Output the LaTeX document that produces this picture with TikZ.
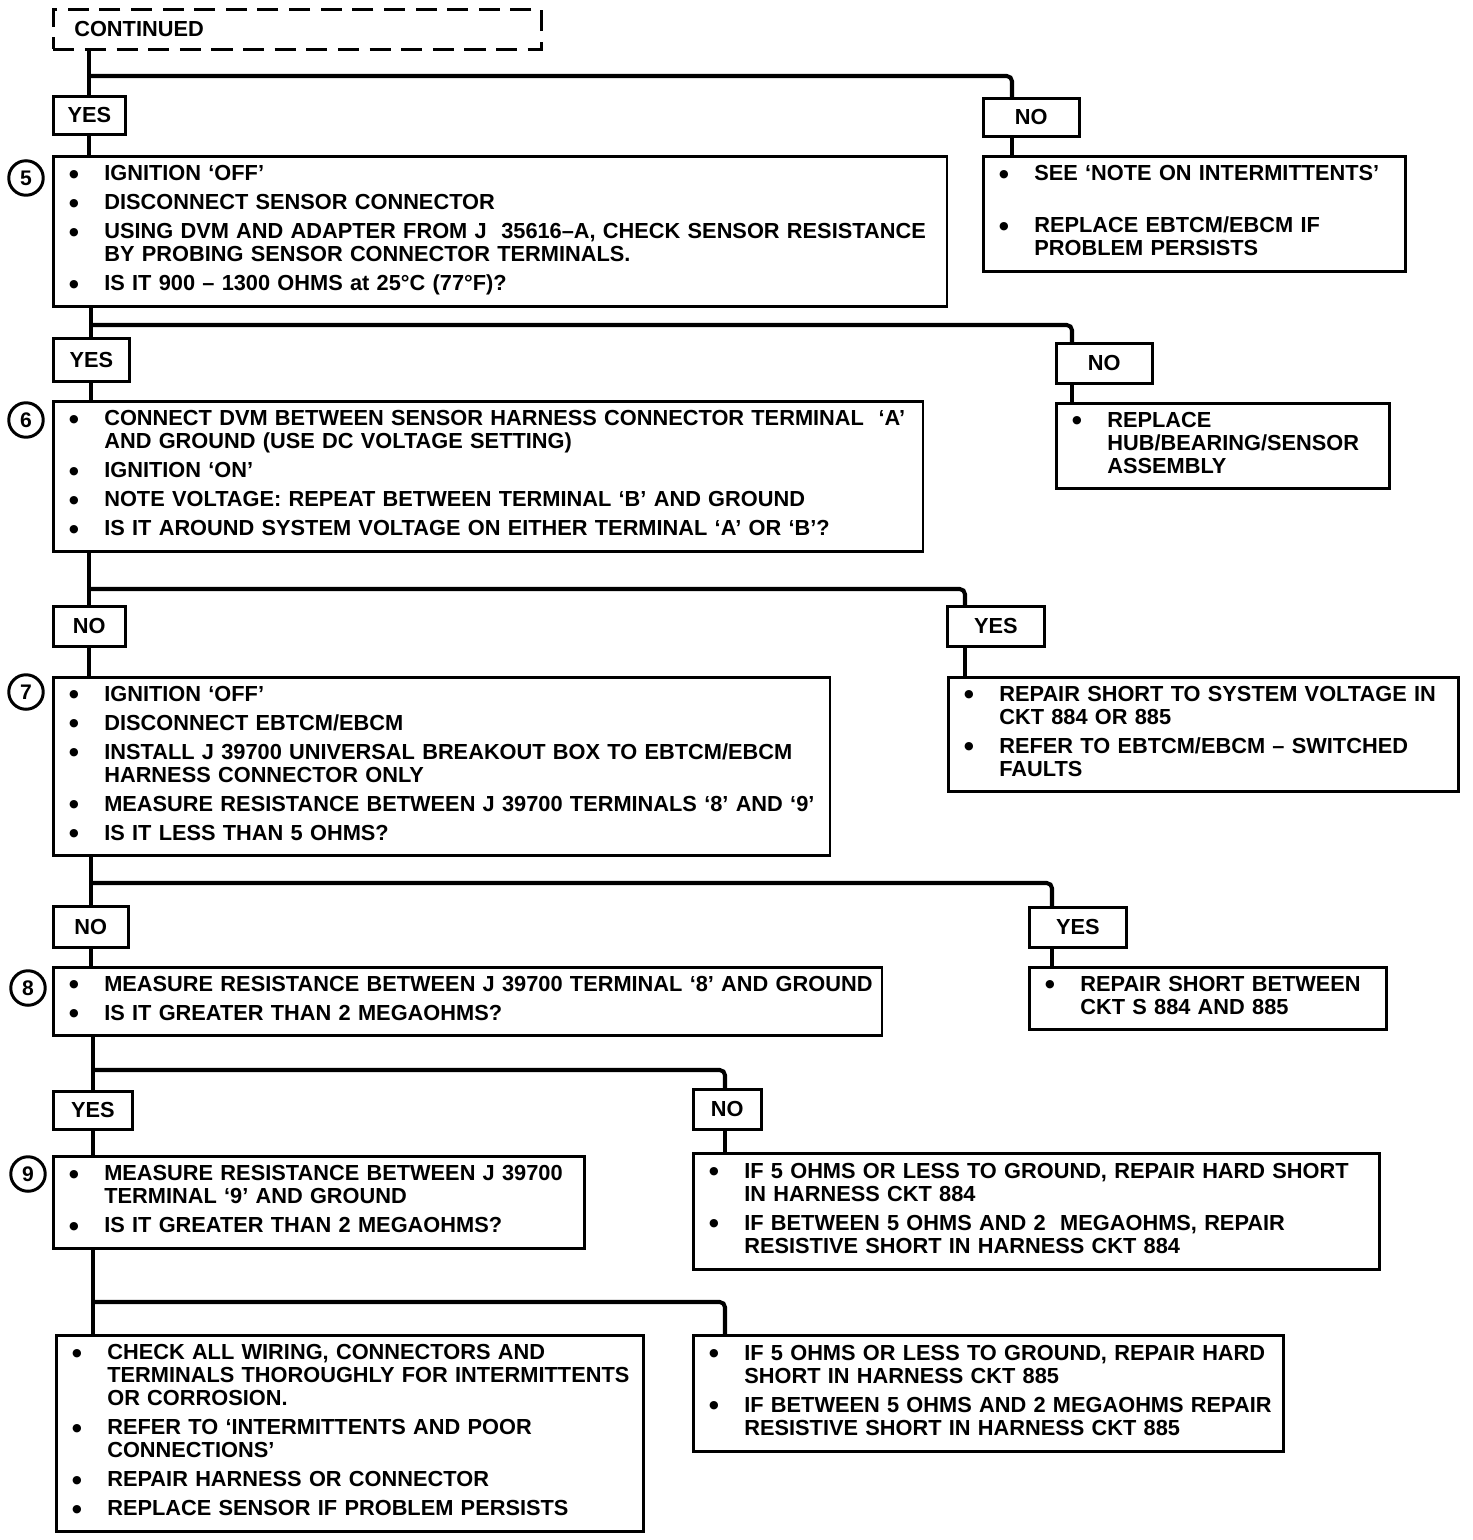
\documentclass[tikz,border=0pt]{standalone}
\usepackage{fontspec}
\setmainfont{Liberation Sans}
\newfontfamily\dotfont{DejaVu Sans}
\usetikzlibrary{positioning}
\newcommand{\bul}{\raisebox{-1.3pt}{\dotfont\fontsize{13.5}{13.5}\selectfont\textbullet}}
\newcommand{\gap}{\\[3.4pt]}
\newcommand{\steplist}[1]{\noindent\begin{tabular}{@{\hspace{2.6mm}}p{7.6mm}@{}l@{}}#1\end{tabular}}

\begin{document}
\begin{tikzpicture}[x=0.02cm, y=-0.02cm,
  stepbox/.style={draw, line width=1.5pt, anchor=north west, align=left,
                  inner xsep=0pt, inner ysep=0pt, font=\fontsize{12.4}{13.1}\selectfont\bfseries},
  ans/.style={draw, line width=1.5pt, anchor=north west, inner sep=0pt,
              font=\fontsize{12.4}{13.1}\selectfont\bfseries},
  num/.style={draw, circle, line width=1.7pt, minimum size=6.9mm, inner sep=0pt,
              font=\fontsize{12}{12}\selectfont\bfseries},
  link/.style={line width=2.3pt, rounded corners=3pt}
]
\useasboundingbox (0,0) rectangle (1472,1540);

\node[stepbox, dash pattern=on 12pt off 6pt, text width=8.92cm, inner xsep=4.2mm,
      minimum height=8mm] (cont) at (52,8) {CONTINUED};

% step 5
\node[ans, minimum width=14.4mm, minimum height=7.6mm] (yes1) at (52,95) {YES};
\node[ans, minimum width=19.2mm, minimum height=7.6mm] (no1) at (982,97) {NO};
\node[num] (c5) at (26,178) {5};
\node[stepbox, text width=17.88cm, minimum height=3cm] (s5) at (52,155) {\steplist{%
  \bul & IGNITION `OFF' \gap
  \bul & DISCONNECT SENSOR CONNECTOR \gap
  \bul & USING DVM AND ADAPTER FROM J\ \ 35616--A, CHECK SENSOR RESISTANCE \\
       & BY PROBING SENSOR CONNECTOR TERMINALS. \gap
  \bul & IS IT 900 -- 1300 OHMS at 25°C (77°F)?}};
\node[stepbox, text width=8.44cm, minimum height=2.3cm] (r5) at (982,155) {\steplist{%
  \bul & SEE `NOTE ON INTERMITTENTS' \\[16.5pt]
  \bul & REPLACE EBTCM/EBCM IF \\
       & PROBLEM PERSISTS}};

% step 6
\node[ans, minimum width=15.2mm, minimum height=8.6mm] (yes2) at (52,337) {YES};
\node[ans, minimum width=19.2mm, minimum height=8mm] (no2) at (1055,342) {NO};
\node[num] (c6) at (26,420) {6};
\node[stepbox, text width=17.4cm, minimum height=3cm] (s6) at (52,400) {\steplist{%
  \bul & CONNECT DVM BETWEEN SENSOR HARNESS CONNECTOR TERMINAL\ \ `A' \\
       & AND GROUND (USE DC VOLTAGE SETTING) \gap
  \bul & IGNITION `ON' \gap
  \bul & NOTE VOLTAGE: REPEAT BETWEEN TERMINAL `B' AND GROUND \gap
  \bul & IS IT AROUND SYSTEM VOLTAGE ON EITHER TERMINAL `A' OR `B'?}};
\node[stepbox, text width=6.66cm, minimum height=1.7cm] (r6) at (1055,402) {\steplist{%
  \bul & REPLACE \\
       & HUB/BEARING/SENSOR \\
       & ASSEMBLY}};

% step 7
\node[ans, minimum width=14.4mm, minimum height=8mm] (no3) at (52,605) {NO};
\node[ans, minimum width=19.4mm, minimum height=8mm] (yes3) at (946,605) {YES};
\node[num] (c7) at (26,692) {7};
\node[stepbox, text width=15.54cm, minimum height=3.56cm] (s7) at (52,676) {\steplist{%
  \bul & IGNITION `OFF' \gap
  \bul & DISCONNECT EBTCM/EBCM \gap
  \bul & INSTALL J 39700 UNIVERSAL BREAKOUT BOX TO EBTCM/EBCM \\
       & HARNESS CONNECTOR ONLY \gap
  \bul & MEASURE RESISTANCE BETWEEN J 39700 TERMINALS `8' AND `9' \gap
  \bul & IS IT LESS THAN 5 OHMS?}};
\node[stepbox, text width=10.2cm, minimum height=2.28cm] (r7) at (947,676) {\steplist{%
  \bul & REPAIR SHORT TO SYSTEM VOLTAGE IN \\
       & CKT 884 OR 885 \gap
  \bul & REFER TO EBTCM/EBCM -- SWITCHED \\
       & FAULTS}};

% step 8
\node[ans, minimum width=15mm, minimum height=8.2mm] (no4) at (52,905) {NO};
\node[ans, minimum width=19.4mm, minimum height=8mm] (yes4) at (1028,906) {YES};
\node[num] (c8) at (28,988) {8};
\node[stepbox, text width=16.58cm, minimum height=1.36cm] (s8) at (52,966) {\steplist{%
  \bul & MEASURE RESISTANCE BETWEEN J 39700 TERMINAL `8' AND GROUND \gap
  \bul & IS IT GREATER THAN 2 MEGAOHMS?}};
\node[stepbox, text width=7.14cm, minimum height=1.24cm] (r8) at (1028,966) {\steplist{%
  \bul & REPAIR SHORT BETWEEN \\
       & CKT S 884 AND 885}};

% step 9
\node[ans, minimum width=15.8mm, minimum height=7.6mm] (yes5) at (52,1090) {YES};
\node[ans, minimum width=13.6mm, minimum height=8mm] (no5) at (692,1088) {NO};
\node[num] (c9) at (28,1174) {9};
\node[stepbox, text width=10.62cm, minimum height=1.84cm] (s9) at (52,1155) {\steplist{%
  \bul & MEASURE RESISTANCE BETWEEN J 39700 \\
       & TERMINAL `9' AND GROUND \gap
  \bul & IS IT GREATER THAN 2 MEGAOHMS?}};
\node[stepbox, text width=13.72cm, minimum height=2.32cm] (r9) at (692,1152) {\steplist{%
  \bul & IF 5 OHMS OR LESS TO GROUND, REPAIR HARD SHORT \\
       & IN HARNESS CKT 884 \gap
  \bul & IF BETWEEN 5 OHMS AND 2\ \ MEGAOHMS, REPAIR \\
       & RESISTIVE SHORT IN HARNESS CKT 884}};

% last results
\node[stepbox, text width=11.74cm, minimum height=3.92cm] (fin) at (55,1334) {\steplist{%
  \bul & CHECK ALL WIRING, CONNECTORS AND \\
       & TERMINALS THOROUGHLY FOR INTERMITTENTS \\
       & OR CORROSION. \gap
  \bul & REFER TO `INTERMITTENTS AND POOR \\
       & CONNECTIONS' \gap
  \bul & REPAIR HARNESS OR CONNECTOR \gap
  \bul & REPLACE SENSOR IF PROBLEM PERSISTS}};
\node[stepbox, text width=11.8cm, minimum height=2.32cm] (r10) at (692,1334) {\steplist{%
  \bul & IF 5 OHMS OR LESS TO GROUND, REPAIR HARD \\
       & SHORT IN HARNESS CKT 885 \gap
  \bul & IF BETWEEN 5 OHMS AND 2 MEGAOHMS REPAIR \\
       & RESISTIVE SHORT IN HARNESS CKT 885}};

% connectors
\coordinate (d1) at (1012,76);
\draw[link] (cont.south -| yes1) -- (yes1.north);
\draw[link] (yes1 |- d1) -- (d1) -- (d1 |- no1.north);
\draw[link] (yes1.south) -- (yes1 |- s5.north);
\draw[link] (d1 |- no1.south) -- (d1 |- r5.north);

\coordinate (d2) at (1072,325);
\draw[link] (s5.south -| yes2) -- (yes2.north);
\draw[link] (yes2 |- d2) -- (d2) -- (d2 |- no2.north);
\draw[link] (yes2.south) -- (yes2 |- s6.north);
\draw[link] (d2 |- no2.south) -- (d2 |- r6.north);

\coordinate (d3) at (965,589);
\draw[link] (s6.south -| no3) -- (no3.north);
\draw[link] (no3 |- d3) -- (d3) -- (d3 |- yes3.north);
\draw[link] (no3.south) -- (no3 |- s7.north);
\draw[link] (d3 |- yes3.south) -- (d3 |- r7.north);

\coordinate (d4) at (1052,883);
\draw[link] (s7.south -| no4) -- (no4.north);
\draw[link] (no4 |- d4) -- (d4) -- (d4 |- yes4.north);
\draw[link] (no4.south) -- (no4 |- s8.north);
\draw[link] (d4 |- yes4.south) -- (d4 |- r8.north);

\coordinate (d5) at (725,1070);
\draw[link] (s8.south -| yes5) -- (yes5.north);
\draw[link] (yes5 |- d5) -- (d5) -- (d5 |- no5.north);
\draw[link] (yes5.south) -- (yes5 |- s9.north);
\draw[link] (d5 |- no5.south) -- (d5 |- r9.north);

\coordinate (d6) at (725,1302);
\draw[link] (s9.south -| yes5) -- (yes5 |- fin.north);
\draw[link] (yes5 |- d6) -- (d6) -- (d6 |- r10.north);
\end{tikzpicture}
\end{document}
